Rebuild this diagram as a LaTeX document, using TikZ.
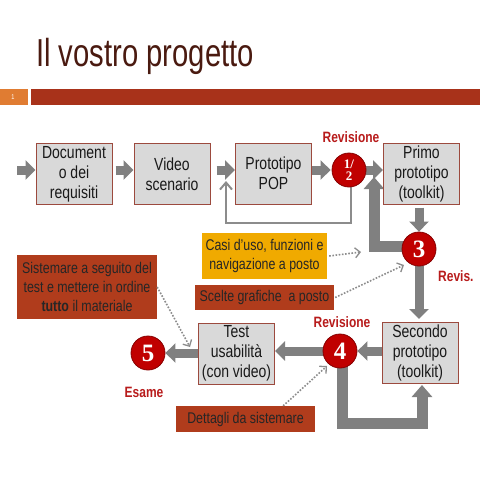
\documentclass[tikz,border=0pt]{standalone}
\usepackage{fontspec}
\setmainfont{Liberation Sans}[FakeStretch=0.8]
\newfontfamily\titlefont{Liberation Sans}[FakeStretch=0.75]
\newfontfamily\numfont{Liberation Serif}
\usetikzlibrary{arrows.meta}
\pgfdeclarelayer{bottom}
\pgfdeclarelayer{background}
\pgfsetlayers{bottom,background,main}
\definecolor{titlec}{HTML}{4A1A10}
\definecolor{orangec}{HTML}{E07C32}
\definecolor{barc}{HTML}{A8321A}
\definecolor{boxfill}{HTML}{D9D9D9}
\definecolor{boxline}{HTML}{9C4A3E}
\definecolor{yellowc}{HTML}{F0AA00}
\definecolor{rustc}{HTML}{B03C1C}
\definecolor{circc}{HTML}{C00000}
\definecolor{labc}{HTML}{B81C1C}
\definecolor{arrc}{HTML}{808080}
\definecolor{dotc}{HTML}{8C8C8C}
\begin{document}
\begin{tikzpicture}[x=1pt,y=-1pt,
 stepbox/.style={draw=boxline, line width=1pt, fill=boxfill, minimum width=76pt, minimum height=61pt, inner sep=0pt, align=center, font=\fontsize{17.5}{20}\selectfont, text=black!90},
 numcirc/.style={circle, fill=circc, draw=circc!70!black, line width=0.8pt, minimum size=34pt, inner sep=0pt, text=white, font=\numfont\bfseries\fontsize{25}{25}\selectfont},
 note/.style={inner sep=0pt, align=center, font=\fontsize{15.5}{19}\selectfont, text=black!85},
 revlab/.style={font=\bfseries\fontsize{15}{18}\selectfont, text=labc, inner sep=0pt},
 blk/.style={draw=arrc, line width=9pt, -{Triangle[width=19pt,length=10pt]}},
 bigblk/.style={draw=arrc, line width=11pt, line join=miter, -{Triangle[width=20pt,length=12pt]}},
 fbline/.style={draw=dotc, line width=2.5pt, line join=miter, -{Straight Barb[length=7pt,width=12pt,line width=2pt]}},
 dotarr/.style={draw=dotc, line width=1.6pt, dash pattern=on 1.6pt off 1.6pt, -{Straight Barb[length=5pt,width=10pt,line width=1.3pt]}},
]
\begin{pgfonlayer}{bottom}
\fill[white] (0,0) rectangle (480,480);
\end{pgfonlayer}
\useasboundingbox (0,0) rectangle (480,480);

% title and bar
\node[anchor=base west, inner sep=0pt, text=titlec, font=\titlefont\fontsize{39}{39}\selectfont] (title) at (36,66) {Il vostro progetto};
\fill[orangec] (0,89) rectangle (28,105);
\fill[barc] (31,89) rectangle (480,105);
\node[inner sep=0pt, text=white, font=\fontsize{7}{7}\selectfont] (num) at (13,97) {1};

% main steps
\node[stepbox] (doc) at (74,174) {Document\\o dei\\requisiti};
\node[stepbox] (video) at (172,174) {Video\\scenario};
\node[stepbox] (pop) at (273.5,173.5) {Prototipo\\POP};
\node[numcirc, align=center, font=\numfont\bfseries\fontsize{13}{12.5}\selectfont] (c12) at (349,170) {1/\\2};
\node[stepbox] (primo) at (421.5,173.5) {Primo\\prototipo\\(toolkit)};
\node[numcirc] (c3) at (419,249) {3};
\node[stepbox] (secondo) at (420,353) {Secondo\\prototipo\\(toolkit)};
\node[numcirc] (c4) at (340,351) {4};
\node[stepbox] (test) at (236.5,353.5) {Test\\usabilità\\(con video)};
\node[numcirc] (c5) at (148,353) {5};

% labels
\node[revlab] (rev1) at (351,137) {Revisione};
\node[revlab, anchor=west] (rev3) at (438,276) {Revis.};
\node[revlab] (rev4) at (342,322) {Revisione};
\node[revlab] (esame) at (144,392) {Esame};

% notes
\node[note, fill=yellowc, minimum width=125pt, minimum height=46pt] (casi) at (264.5,256) {Casi d’uso, funzioni e\\navigazione a posto};
\node[note, fill=rustc, minimum width=139pt, minimum height=25pt] (scelte) at (264.5,297.5) {Scelte grafiche\ \ a posto};
\node[note, fill=rustc, minimum width=140pt, minimum height=64pt] (sist) at (87,287) {Sistemare a seguito del\\test e mettere in ordine\\\textbf{tutto} il materiale};
\node[note, fill=rustc, minimum width=139pt, minimum height=26pt] (dett) at (245.5,419) {Dettagli da sistemare};

% coordinates
\coordinate (start) at (17,170);
\coordinate (loopA) at (374,177);
\coordinate (bandB) at (382,423);
\coordinate (loopB) at (422,385);
\coordinate (fbA) at (226,181);
\coordinate (fbB) at (300,223);
\coordinate (d1) at (361,252);
\coordinate (d2) at (404,265);
\coordinate (d3) at (327,366);
\coordinate (d4) at (190,347);

\begin{pgfonlayer}{background}
\draw[blk] (start) -- (start -| doc.west);
\draw[blk, shorten <=3pt] (doc.east |- start) -- (video.west |- start);
\draw[blk, shorten <=6pt] (video.east |- start) -- (pop.west |- start);
\draw[blk, shorten >=1pt] (pop.east |- start) -- (c12.west |- start);
\draw[blk] (c12.east) -- (primo.west |- c12);
\draw[blk, shorten <=3pt] (c3.north |- primo.south) -- (c3.north);
\draw[blk, shorten >=3pt] (c3.south) -- (c3.south |- secondo.north);
\draw[blk] (secondo.west |- c4) -- (c4.east);
\draw[blk] (c4.center) -- (test.east |- c4);
\draw[blk] (test.west |- c5) -- (c5.east);
\draw[bigblk] ([yshift=3pt]c3.center) -| (loopA);
\draw[bigblk] ([xshift=2pt]c4.center) |- (bandB) -| (loopB);
\draw[fbline] ([xshift=2pt]c12.center) |- (fbB) -| (fbA);
\end{pgfonlayer}

\draw[dotarr] ([xshift=2pt]casi.east) -- (d1);
\draw[dotarr] ([xshift=1pt]scelte.east) -- (d2);
\draw[dotarr] ([xshift=-32pt]dett.north east) -- (d3);
\draw[dotarr] (sist.east) -- (d4);
\end{tikzpicture}
\end{document}
